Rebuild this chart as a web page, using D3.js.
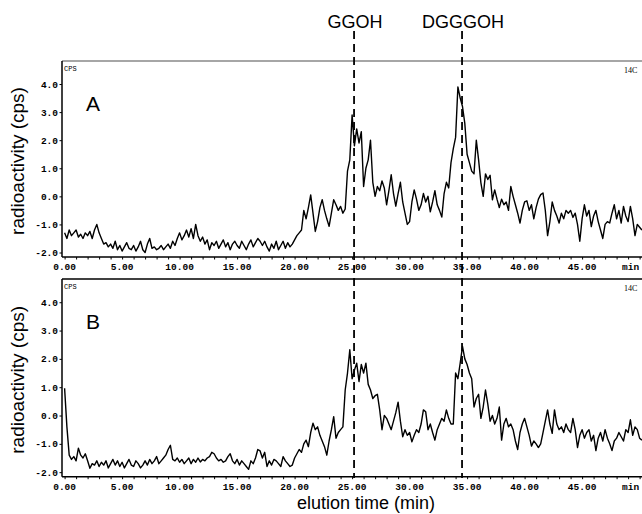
<html>
<head>
<script src="https://d3js.org/d3.v7.min.js"></script>
<style>
  body { margin: 0; background: #fff; }
  svg text { font-family: "Liberation Sans", Arial, sans-serif; fill: #000; }
  .tk { font-family: "Liberation Mono", "DejaVu Sans Mono", monospace; font-weight: bold; font-size: 9.5px; }
</style>
</head>
<body>
<div id="chart"></div>
<script>
// sampling of the traces (min)
sample_step = 0.2;

// panel A radioactivity (cps), one value every 0.2 min from 0 to 50.2
trace_a = [
  -1.3, -1.5, -1.2, -1.4, -1.3,   -1.2, -1.45, -1.35, -1.5, -1.3,
  -1.4, -1.25, -1.5, -1.2, -1.0,  -1.3, -1.5, -1.7, -1.65, -1.8,
  -1.7, -1.85, -1.6, -1.9, -1.75, -1.95, -1.8, -1.65, -1.85, -1.9,
  -1.75, -1.95, -1.8, -1.6, -1.9, -2.0, -1.7, -1.5, -1.85, -1.8,
  -1.9, -1.85, -1.75, -1.9, -1.8, -1.7, -1.85, -1.6, -1.75, -1.5,
  -1.3, -1.55, -1.4, -1.2, -1.45, -1.15, -1.5, -1.0, -1.4, -1.6,
  -1.45, -1.7, -1.55, -1.9, -1.65, -1.75, -1.6, -1.85, -1.7, -1.55,
  -1.8, -1.65, -1.9, -1.7, -1.6,  -1.75, -1.85, -1.6, -1.75, -1.9,
  -1.7, -1.55, -1.8, -1.65, -1.5, -1.6, -1.75, -1.6, -1.8, -1.95,
  -1.7, -1.85, -1.6, -1.9, -1.75, -1.6, -1.85, -1.65, -1.8, -1.7,
  -1.55, -1.4, -1.3, -1.2, -0.5,  -0.8, -0.4, 0.05, -0.6, -1.25,
  -0.9, -0.4, -0.12, -0.5, -0.8,  -1.07, -0.6, -0.12, -0.3, -0.5,
  -0.36, -0.6, -0.45, 0.9, 1.3,   2.9, 1.8, 2.4, 1.9, 2.3,
  0.35, 1.0, 1.3, 2.0, 0.5,       0.0, 0.35, 0.2, 0.55, 0.3,
  -0.3, 0.2, 0.77, 0.1, -0.35,    0.1, 0.5, -0.2, -0.6, -1.0,
  -0.9, -0.2, 0.23, -0.1, -0.5,   -0.3, 0.1, -0.2, 0.0, -0.55,
  -0.2, 0.2, -0.3, -0.5, -0.74,   0.1, 0.5, 0.3, 1.2, 1.7,
  2.1, 3.9, 3.5, 3.2, 2.6,        1.5, 1.2, 0.9, 0.8, 2.0,
  1.3, 0.48, 0.0, 0.8, 0.6,       0.75, -0.12, 0.23, -0.1, -0.4,
  -0.1, -0.3, -0.2, -0.5, 0.35,   0.0, -0.3, -0.6, -0.95, -0.5,
  -0.2, -0.16, -0.5, -0.3, -0.8,  -0.4, -0.1, 0.06, 0.12, -0.5,
  -1.4, -0.9, -0.2, -0.5, -0.7,   -0.95, -0.6, -0.8, -0.5, -0.6,
  -0.5, -0.75, -0.6, -1.0, -1.6,  -0.8, -0.3, -0.7, -0.5, -1.08,
  -0.7, -0.5, -0.9, -1.2, -1.5,   -1.0, -0.9, -0.95, -0.6, -0.3,
  -0.8, -0.5, -0.95, -0.36, -0.7, -0.9, -0.36, -0.8, -1.4, -1.0,
  -1.1, -1.2
];

// panel B radioactivity (cps), same sampling
trace_b = [
  0.96, -0.4, -1.4, -1.55, -1.45, -1.6, -1.15, -1.4, -1.5, -1.35,
  -1.6, -1.86, -1.7, -1.75, -1.6, -1.8, -1.65, -1.75, -1.6, -1.85,
  -1.7, -1.55, -1.75, -1.6, -1.8, -1.65, -1.85, -1.7, -1.55, -1.75,
  -1.8, -1.6, -1.7, -1.85, -1.75, -1.6, -1.75, -1.55, -1.7, -1.6,
  -1.45, -1.7, -1.6, -1.5, -1.4,  -1.2, -1.05, -1.55, -1.6, -1.5,
  -1.65, -1.55, -1.7, -1.6, -1.5, -1.7, -1.55, -1.65, -1.5, -1.64,
  -1.55, -1.6, -1.5, -1.45, -1.3, -1.35, -1.5, -1.6, -1.55, -1.65,
  -1.6, -1.45, -1.35, -1.6, -1.7, -1.55, -1.75, -1.6, -1.7, -1.8,
  -1.9, -1.6, -1.7, -1.5, -1.2,   -1.25, -1.5, -1.3, -1.8, -1.6,
  -1.75, -1.55, -1.6, -1.7, -1.8, -1.45, -1.6, -1.7, -1.8, -1.75,
  -1.5, -1.35, -1.2, -1.3, -1.0,  -0.87, -1.1, -0.6, -0.27, -0.5,
  -0.4, -0.7, -0.9, -1.1, -1.4,   -0.9, -0.5, -0.04, -0.8, -0.6,
  -0.5, -0.4, 0.9, 1.5, 2.32,     1.3, 1.6, 1.85, 1.2, 1.8,
  1.5, 1.85, 1.1, 0.9, 0.6,       0.7, 0.75, 0.2, -0.5, 0.0,
  -0.1, -0.3, -0.5, -0.2, 0.1,    0.47, -0.2, -0.75, -0.5, -0.7,
  -0.6, -0.93, -0.7, -0.5, -0.6,  -0.3, 0.2, 0.13, -0.5, -0.3,
  -0.6, -0.87, -0.5, -0.3, -0.1,  -0.2, 0.2, -0.1, -0.3, -0.3,
  1.5, 1.3, 1.85, 2.44, 2.0,      1.8, 1.5, 1.3, 0.3, 0.6,
  0.75, -0.1, 0.3, 0.9, 0.4,      -0.2, 0.0, -0.3, -0.1, 0.3,
  -0.87, -0.3, -0.1, -0.4, -0.3,  -0.5, -0.9, -1.2, -0.6, -0.3,
  -0.1, -0.4, -0.7, -1.08, -0.9,  -1.0, -1.13, -1.0, -0.6, -0.2,
  0.2, -0.3, -0.63, 0.2, -0.3,    -0.5, -0.4, -0.6, -0.3, -0.5,
  -0.6, -0.1, -0.5, -1.13, -0.7,  -0.5, -0.8, -0.6, -0.5, -0.9,
  -0.7, -1.24, -0.8, -0.6, -0.9,  -0.5, -0.8, -1.0, -1.24, -0.9,
  -0.8, -0.6, -0.75, -0.9, -0.5,  -0.6, -0.15, -0.7, -0.4, -0.5,
  -0.8, -0.87
];

y_ticks = [-2, -1, 0, 1, 2, 3, 4];
x_ticks = [0, 5, 10, 15, 20, 25, 30, 35, 40, 45];
marker_names = ["GGOH", "DGGGOH"];
marker_times = [25.17, 34.56];
panel_names = ["A", "B"];

W = 642; H = 514;
svg = d3.select("#chart").append("svg").attr("width", W).attr("height", H);

x = d3.scaleLinear().domain([0, 50]).range([64.6, 639.6]);

panels = [
  { data: trace_a, top: 61, bottom: 257, topColor: "#888" },
  { data: trace_b, top: 279, bottom: 476.7, topColor: "#000" }
];

panels.forEach(function(p, k) {
  // -2.16 .. 4.82 cps spans the frame height
  y = d3.scaleLinear().domain([-2.16, 4.82]).range([p.bottom, p.top]);
  g = svg.append("g");

  g.append("line").attr("x1", 62).attr("x2", W + 2).attr("y1", p.top).attr("y2", p.top)
    .attr("stroke", p.topColor).attr("stroke-width", 1.5);
  g.append("line").attr("x1", 62).attr("x2", 62).attr("y1", p.top).attr("y2", p.bottom)
    .attr("stroke", "#000").attr("stroke-width", 1.5);

  xAxis = g.append("g").attr("transform", `translate(0,${p.bottom})`)
    .call(d3.axisBottom(x).tickValues(d3.range(0, 51, 1)).tickSize(2.5).tickFormat(""));
  xAxis.select(".domain").attr("d", `M62,0H${W + 2}`).attr("stroke-width", 1.5);
  xAxis.selectAll(".tick line").attr("stroke-width", 1);

  g.selectAll(".xl").data(x_ticks).enter().append("text")
    .attr("class", "tk").attr("x", d => x(d)).attr("y", p.bottom + 13)
    .attr("text-anchor", "middle").text(d => d.toFixed(2));
  g.append("text").attr("class", "tk").attr("x", 622).attr("y", p.bottom + 13).text("min");

  yAxis = g.append("g").attr("transform", "translate(62,0)")
    .call(d3.axisLeft(y).tickValues(y_ticks).tickSize(2.5).tickFormat(""));
  yAxis.select(".domain").remove();
  g.selectAll(".yl").data(y_ticks).enter().append("text")
    .attr("class", "tk").attr("x", 58).attr("y", d => y(d) + 3.5)
    .attr("text-anchor", "end").text(d => d.toFixed(1));

  g.append("text").attr("x", 64).attr("y", p.top + 10).attr("font-size", 7)
    .style("font-family", "Liberation Mono, monospace").style("fill", "#000").text("CPS");
  g.append("text").attr("x", 624).attr("y", p.top + 12).attr("font-size", 8)
    .style("font-family", "Liberation Serif, serif").style("fill", "#000").text("14C");

  g.append("text").attr("x", 86).attr("y", p.top + 50).attr("font-size", 21)
    .text(panel_names[k]);

  g.append("text").attr("transform", `translate(24,${(p.top + p.bottom) / 2 + 2}) rotate(-90)`)
    .attr("text-anchor", "middle").attr("font-size", 19).text("radioactivity (cps)");

  g.append("path").datum(p.data)
    .attr("fill", "none").attr("stroke", "#000").attr("stroke-width", 1.4)
    .attr("stroke-linejoin", "round")
    .attr("d", d3.line().x((d, i) => x(i * sample_step)).y(d => y(d)));
});

// peak markers
svg.selectAll(".mk").data(marker_times).enter().append("line")
  .attr("x1", d => x(d)).attr("x2", d => x(d)).attr("y1", 31).attr("y2", 478)
  .attr("stroke", "#000").attr("stroke-width", 1.8).attr("stroke-dasharray", "8,5");
svg.selectAll(".mn").data(marker_names).enter().append("text")
  .attr("x", (d, i) => x(marker_times[i]) + 1).attr("y", 28)
  .attr("text-anchor", "middle").attr("font-size", 18).text(d => d);

svg.append("text").attr("x", 366).attr("y", 509).attr("text-anchor", "middle")
  .attr("font-size", 18).text("elution time (min)");
</script>
</body>
</html>
